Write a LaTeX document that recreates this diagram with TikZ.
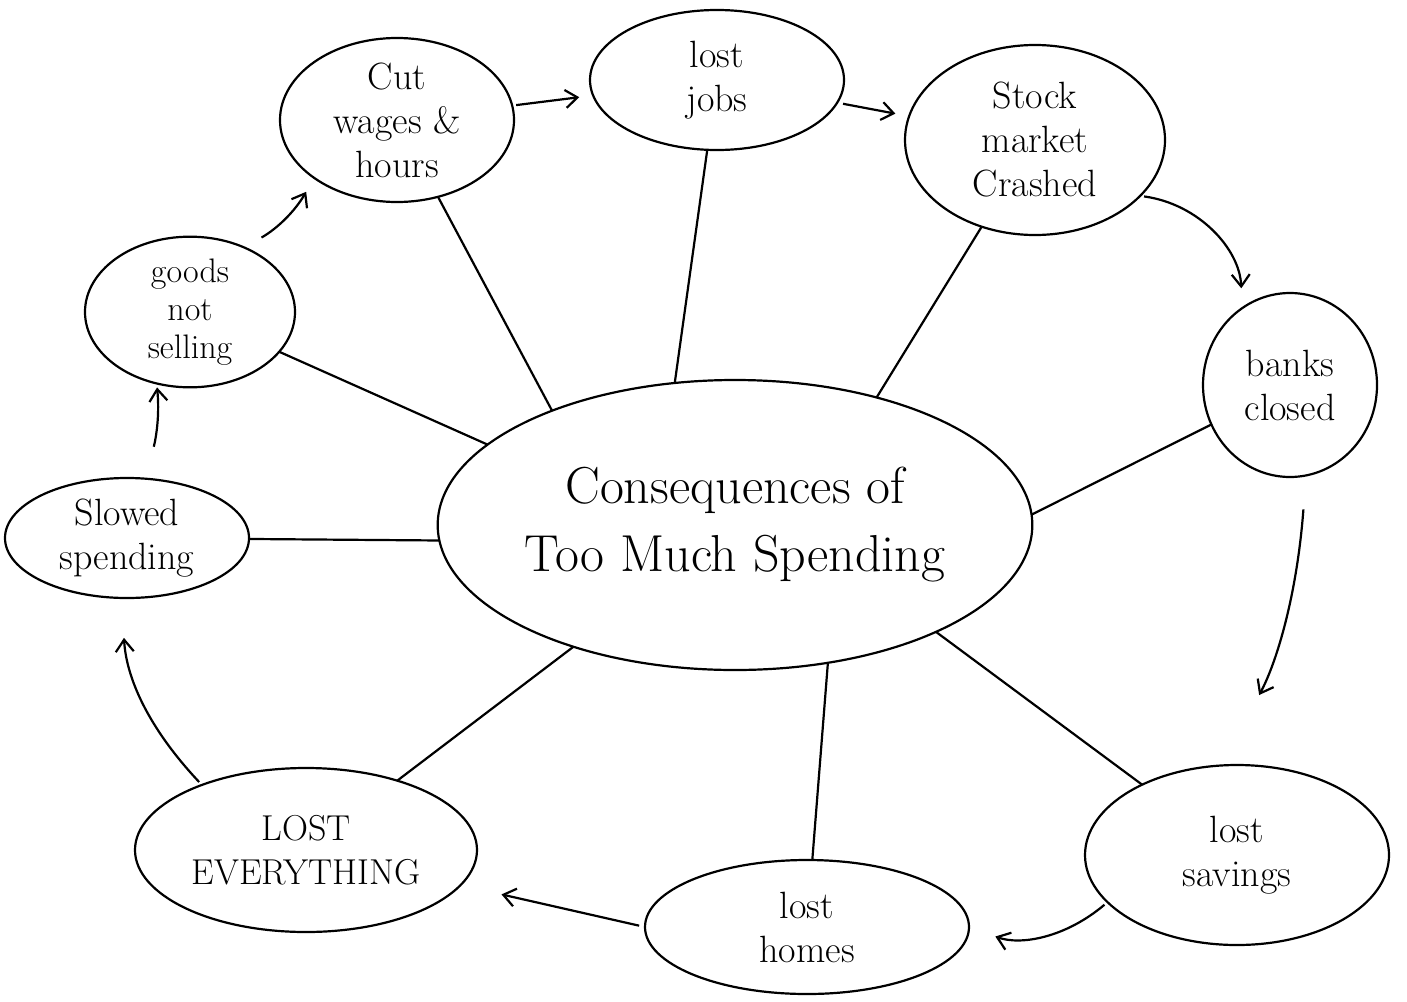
\documentclass[tikz,border=0pt]{standalone}
\usepackage{tikz}
\usetikzlibrary{shapes.geometric, arrows.meta}

\begin{document}
\begin{tikzpicture}[x=0.5pt,y=-0.5pt,
  bubble/.style={ellipse, draw=black, line width=1.1pt, inner sep=0pt, outer sep=0pt, align=center, font=\fontsize{19}{22}\selectfont},
  spoke/.style={line width=1.1pt},
  flow/.style={-{Straight Barb[length=6pt,width=9pt]}, line width=1.1pt}]
\useasboundingbox (0,0) rectangle (1407,1001);
\node[bubble, minimum width=295pt, minimum height=145pt, font=\fontsize{26}{34}\selectfont] (conseq) at (735,525) {Consequences of\\Too Much Spending};
\node[bubble, minimum width=117pt, minimum height=82pt] (cut) at (397,120) {Cut\\wages \&\\hours};
\node[bubble, minimum width=127pt, minimum height=70pt] (jobs) at (717,80) {lost\\jobs};
\node[bubble, minimum width=130pt, minimum height=95pt] (stock) at (1035,140) {Stock\\market\\Crashed};
\node[bubble, minimum width=87pt, minimum height=92pt] (banks) at (1290,385) {banks\\closed};
\node[bubble, minimum width=152pt, minimum height=90pt] (savings) at (1237,855) {lost\\savings};
\node[bubble, minimum width=162pt, minimum height=67pt] (homes) at (807,927) {lost\\homes};
\node[bubble, minimum width=171pt, minimum height=82pt, font=\fontsize{18}{22}\selectfont] (everything) at (306,850) {LOST\\EVERYTHING};
\node[bubble, minimum width=122pt, minimum height=60pt] (slowed) at (127,538) {Slowed\\spending};
\node[bubble, minimum width=105pt, minimum height=72pt, font=\fontsize{17}{19}\selectfont] (goods) at (190,312) {goods\\not\\selling};
% spokes
\draw[spoke] (conseq.148) -- (cut);
\draw[spoke] (conseq.113) -- (jobs);
\draw[spoke] (conseq.42) -- (stock);
\draw[spoke] (conseq.2) -- (banks);
\draw[spoke] (conseq.332) -- (savings);
\draw[spoke] (conseq.304) -- (homes);
\draw[spoke] (conseq.217) -- (everything);
\draw[spoke] (conseq.183) -- (slowed);
\draw[spoke] (conseq.162) -- (goods);
% cycle of arrows
\draw[flow, shorten <=2pt, shorten >=7pt] (cut) -- (jobs);
\draw[flow, shorten <=3pt, shorten >=7pt] (jobs) -- (stock);
\draw[flow, shorten <=2pt, shorten >=10pt] (stock.-28) to[bend left=40] (banks.122);
\draw[flow, shorten <=17pt, shorten >=40pt] (banks.-80) to[bend left=12] (savings.100);
\draw[flow, shorten <=2pt, shorten >=14pt] (savings.200) to[bend left=30] (homes.east);
\draw[flow, shorten <=3pt, shorten >=21pt] (homes.west) -- (everything);
\draw[flow, shorten <=2pt, shorten >=20pt] (everything.148) to[bend left=20] (slowed.-95);
\draw[flow, shorten <=19pt, shorten >=2pt] (slowed.85) to[bend right=20] (goods.-115);
\draw[flow, shorten <=10pt, shorten >=8pt] (goods.50) to[bend right=15] (cut.215);
\end{tikzpicture}
\end{document}
